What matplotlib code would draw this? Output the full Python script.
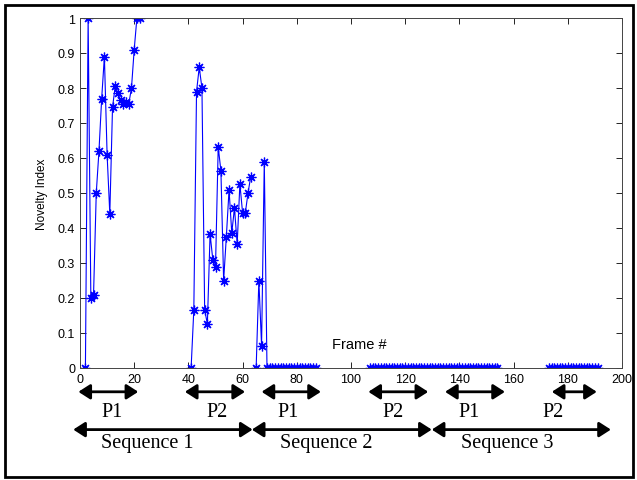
import matplotlib.pyplot as plt
from matplotlib.patches import Rectangle

# novelty index per frame (one list per run of frames)
seg1_frames = list(range(2, 23))
seg1_vals = [0.0, 1.0, 0.20, 0.21, 0.50, 0.62, 0.77, 0.89, 0.61, 0.44, 0.745,
             0.805, 0.785, 0.765, 0.755, 0.76, 0.755, 0.80, 0.91, 1.0, 1.0]

seg2_frames = list(range(41, 64))
seg2_vals = [0.0, 0.166, 0.79, 0.859, 0.80, 0.166, 0.126, 0.383, 0.31, 0.288,
             0.632, 0.563, 0.25, 0.375, 0.509, 0.386, 0.457, 0.354, 0.526,
             0.443, 0.443, 0.50, 0.547]

seg3_frames = list(range(65, 88))
seg3_vals = [0.0, 0.25, 0.064, 0.59,
             0, 0, 0, 0, 0, 0, 0, 0, 0, 0, 0, 0, 0, 0, 0, 0, 0, 0, 0]

seg4_frames = list(range(107, 155))
seg4_vals = [0, 0, 0, 0, 0, 0, 0, 0, 0, 0, 0, 0, 0, 0, 0, 0,
             0, 0, 0, 0, 0, 0, 0, 0, 0, 0, 0, 0, 0, 0, 0, 0,
             0, 0, 0, 0, 0, 0, 0, 0, 0, 0, 0, 0, 0, 0, 0, 0]

seg5_frames = list(range(173, 192))
seg5_vals = [0, 0, 0, 0, 0, 0, 0, 0, 0, 0, 0, 0, 0, 0, 0, 0, 0, 0, 0]

segments = [(seg1_frames, seg1_vals), (seg2_frames, seg2_vals),
            (seg3_frames, seg3_vals), (seg4_frames, seg4_vals),
            (seg5_frames, seg5_vals)]

# phase / sequence spans under the axis (frame numbers)
part_labels = ['P1', 'P2', 'P1', 'P2', 'P1', 'P2']
part_spans = [(-0.6, 21.5), (38.7, 60.9), (67.0, 88.9),
              (106.4, 128.5), (134.7, 156.8), (174.1, 190.7)]
part_label_x = [11.7, 50.4, 76.8, 115.6, 143.7, 174.4]

seq_labels = ['Sequence 1', 'Sequence 2', 'Sequence 3']
seq_spans = [(-2.5, 63.7), (63.4, 129.8), (129.8, 195.9)]
seq_label_x = [24.7, 91.0, 157.5]

fig = plt.figure(figsize=(6.37, 4.81), dpi=100)
ax = fig.add_axes([80 / 637, 1 - 369 / 481, 542 / 637, 350 / 481])

for fr, v in segments:
    ax.plot(fr, v, '-', color='#0000ff', lw=0.8,
            marker=(8, 2, 0), markersize=7, markeredgewidth=0.9)

ax.set_xlim(0, 200)
ax.set_ylim(0, 1)
ax.set_xticks(range(0, 201, 20))
ax.set_yticks([i / 10 for i in range(11)])
ax.set_yticklabels(['0', '0.1', '0.2', '0.3', '0.4', '0.5', '0.6', '0.7', '0.8', '0.9', '1'])
ax.tick_params(direction='in', top=True, right=True, length=4, width=0.6,
               labelsize=9, pad=3.5)
for lab in ax.get_xticklabels() + ax.get_yticklabels():
    lab.set_family('Liberation Sans')
for s in ax.spines.values():
    s.set_linewidth(0.7)
    s.set_color('#444444')

ax.set_ylabel('Novelty Index', family='Liberation Sans', fontsize=8.5, labelpad=7)
ax.text(93, 0.069, 'Frame #', family='Liberation Sans', fontsize=10.5,
        ha='left', va='center')

tr = ax.get_xaxis_transform()
arrow = dict(arrowstyle='<|-|>,head_length=0.7,head_width=0.45', mutation_scale=10,
             lw=2, color='black', shrinkA=0, shrinkB=0)

for (a, b), lab, lx in zip(part_spans, part_labels, part_label_x):
    ax.annotate('', xy=(b, -0.068), xytext=(a, -0.068), xycoords=tr,
                arrowprops=arrow, annotation_clip=False)
    ax.text(lx, -0.125, lab, transform=tr, family='Liberation Serif',
            fontsize=14.5, ha='center', va='center', clip_on=False)

for (a, b), lab, lx in zip(seq_spans, seq_labels, seq_label_x):
    ax.annotate('', xy=(b, -0.176), xytext=(a, -0.176), xycoords=tr,
                arrowprops=arrow, annotation_clip=False)
    ax.text(lx, -0.212, lab, transform=tr, family='Liberation Serif',
            fontsize=14.5, ha='center', va='center', clip_on=False)

# frame drawn round the whole picture
fig.patches.append(Rectangle((5 / 637, 3 / 481), 628 / 637, 472 / 481,
                             transform=fig.transFigure, fill=False,
                             lw=2, edgecolor='black'))

fig.savefig('out.png', dpi=100)
